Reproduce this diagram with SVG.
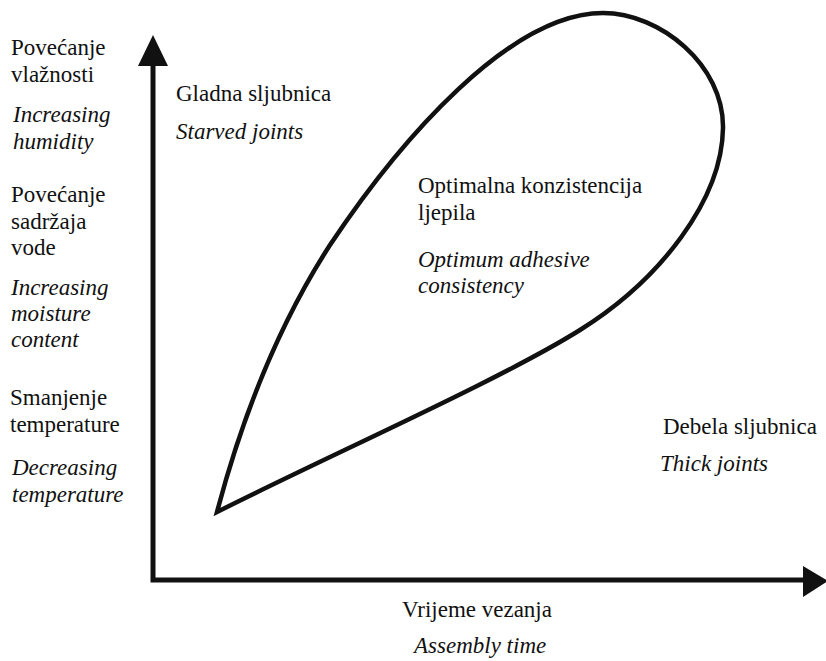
<svg xmlns="http://www.w3.org/2000/svg" width="826" height="661" viewBox="0 0 826 661">
<style>
text{font-family:'Liberation Serif','Times New Roman',serif;font-size:23px;fill:#111}
.it{font-style:italic}
.ax{stroke:#111;stroke-width:5;fill:none}
.head{fill:#111}
.loop{stroke:#111;stroke-width:4.5;fill:none;stroke-linejoin:miter}
</style>
<rect width="826" height="661" fill="#fff"/>
<g id="axes">
<path class="ax" d="M153 64 V580 H806"/>
<polygon class="head" points="153,35 168,66 138,66"/>
<polygon class="head" points="828,581 803,566 803,597"/>
</g>
<g id="loop">
<path class="loop" d="M217 512 C240 425 275 330 330 245 C400 140 510 13 603 13 C660 13 724 65 723 128 C722 200 660 280 580 330 C500 380 330 455 217 512 Z"/>
</g>
<g id="y-labels">
<text x="11" y="55">Povećanje</text>
<text x="11" y="82">vlažnosti</text>
<text class="it" x="13" y="122">Increasing</text>
<text class="it" x="13" y="149">humidity</text>
<text x="11" y="202">Povećanje</text>
<text x="11" y="229">sadržaja</text>
<text x="11" y="255">vode</text>
<text class="it" x="11" y="295">Increasing</text>
<text class="it" x="11" y="321">moisture</text>
<text class="it" x="11" y="347">content</text>
<text x="10" y="405">Smanjenje</text>
<text x="10" y="432">temperature</text>
<text class="it" x="12" y="475">Decreasing</text>
<text class="it" x="12" y="502">temperature</text>
</g>
<g id="starved">
<text x="176" y="101">Gladna sljubnica</text>
<text class="it" x="176" y="139">Starved joints</text>
</g>
<g id="optimum">
<text x="418" y="193">Optimalna konzistencija</text>
<text x="418" y="220">ljepila</text>
<text class="it" x="418" y="267">Optimum adhesive</text>
<text class="it" x="418" y="293">consistency</text>
</g>
<g id="thick">
<text x="663" y="434">Debela sljubnica</text>
<text class="it" x="660" y="471">Thick joints</text>
</g>
<g id="x-label">
<text x="402" y="617">Vrijeme vezanja</text>
<text class="it" x="414" y="653">Assembly time</text>
</g>
</svg>
